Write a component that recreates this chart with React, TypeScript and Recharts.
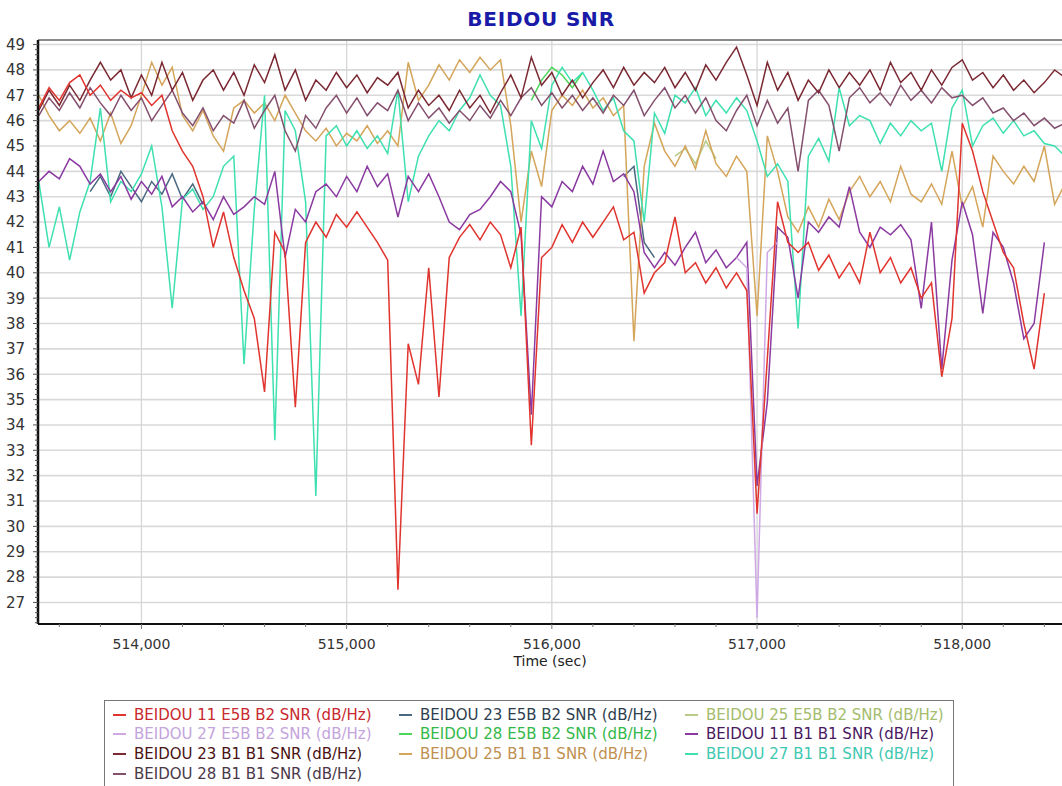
import React from 'react';
import { LineChart, Line, XAxis, YAxis, ReferenceLine } from 'recharts';

const FONT = '"DejaVu Sans", Verdana, sans-serif';

// sample times (sec), one reading every 50 s
const times = Array.from({ length: 101 }, (_, i) => 513500 + i * 50);

// BEIDOU 11 E5B B2
const b11e5b = [
  46.5, 47.3, 46.8, 47.5, 47.8, 47.0, 47.4, 46.8, 47.2, 46.9,
  47.1, 46.6, 47.0, 45.6, 44.8, 44.2, 43.0, 41.0, 42.4, 40.6,
  39.3, 38.2, 35.3, 41.6, 40.8, 34.7, 41.2, 42.0, 41.4, 42.3,
  41.8, 42.4, 41.8, 41.2, 40.5, 27.5, 37.2, 35.6, 40.2, 35.1,
  40.6, 41.4, 41.9, 41.3, 42.0, 41.5, 40.2, 41.8, 33.2, 40.6,
  41.0, 41.9, 41.2, 42.0, 41.4, 42.0, 42.6, 41.3, 41.6, 39.2,
  40.0, 40.4, 42.2, 40.0, 40.4, 39.6, 40.2, 39.4, 40.0, 39.3,
  30.5, 36.6, 42.8, 41.2, 40.8, 41.2, 40.1, 40.7, 39.8, 40.4,
  39.6, 41.6, 40.0, 40.6, 39.6, 40.2, 39.0, 39.6, 35.9, 38.2,
  45.9, 44.8, 43.2, 42.0, 40.8, 40.2, 38.0, 36.2, 39.2, null, null,
];

// BEIDOU 11 B1 B1
const b11b1 = [
  43.6, 44.0, 43.7, 44.5, 44.2, 43.5, 43.9, 43.2, 43.8, 42.9,
  43.6, 43.1, 43.8, 42.6, 43.0, 42.4, 42.8, 42.1, 43.0, 42.3,
  42.6, 43.0, 42.7, 44.0, 40.6, 42.5, 42.0, 43.2, 43.5, 43.0,
  43.8, 43.2, 44.2, 43.4, 43.9, 42.2, 43.8, 43.2, 43.9, 43.0,
  42.0, 41.7, 42.3, 42.5, 43.0, 43.6, 43.2, 41.5, 34.4, 43.0,
  42.6, 43.6, 43.2, 44.2, 43.5, 44.8, 43.6, 43.9, 43.2, 40.8,
  40.2, 40.8, 40.3, 41.0, 41.6, 40.4, 40.9, 40.2, 40.6, 41.2,
  31.6, 34.9, 41.8, 41.4, 39.0, 42.0, 41.6, 42.2, 41.8, 43.4,
  41.6, 41.0, 41.8, 41.5, 41.9, 41.3, 38.6, 42.0, 36.2, 40.5,
  42.8, 41.5, 38.4, 41.6, 41.0, 39.6, 37.4, 38.0, 41.2, null, null,
];

// BEIDOU 23 B1 B1
const b23b1 = [
  46.4, 47.2, 46.6, 47.4, 46.8, 47.6, 48.3, 47.6, 48.0, 46.9,
  47.8, 47.0, 48.3, 47.2, 47.9, 46.8, 47.6, 48.0, 47.2, 47.9,
  47.0, 48.2, 47.5, 48.6, 47.2, 48.0, 46.8, 47.6, 47.2, 47.9,
  47.3, 47.8, 47.1, 47.7, 47.4, 47.9, 46.5, 47.2, 46.6, 47.0,
  46.4, 47.2, 46.5, 47.0, 46.3, 47.1, 47.8, 46.9, 48.5, 47.4,
  47.9, 47.0, 47.6, 46.9, 47.5, 48.0, 47.3, 48.1, 47.4, 47.9,
  47.5, 48.1, 47.3, 47.9, 47.2, 48.2, 47.6, 48.3, 48.9, 47.8,
  46.6, 48.3, 47.2, 47.9, 46.8, 47.6, 47.1, 48.0, 47.3, 47.9,
  47.4, 48.0, 47.2, 48.3, 47.5, 47.9, 47.2, 48.0, 47.4, 48.1,
  48.4, 47.6, 47.9, 47.3, 47.8, 47.2, 47.6, 47.1, 47.5, 48.0, 47.7,
];

// BEIDOU 28 B1 B1
const b28b1 = [
  46.2, 46.9, 46.4, 47.1, 46.5, 47.3, 46.7, 46.2, 47.0, 46.4,
  46.9, 46.0, 46.6, 47.2, 46.3, 45.8, 46.5, 45.6, 46.2, 45.9,
  46.8, 45.7, 46.4, 47.0, 45.6, 44.8, 46.2, 45.7, 46.5, 47.0,
  46.3, 46.9, 46.2, 46.7, 46.4, 47.2, 46.0, 46.7, 46.1, 46.5,
  45.9, 46.4, 46.0, 46.6, 46.1, 46.8, 46.2, 46.9, 47.3, 46.6,
  47.1, 46.5, 47.0, 46.4, 46.9, 46.3, 47.0, 46.6, 47.2, 46.2,
  46.8, 47.3, 46.5, 47.0, 46.3, 46.9, 46.0, 45.6, 46.4, 47.0,
  45.8, 46.8, 45.9, 46.5, 44.0, 46.8, 47.2, 46.6, 44.8, 46.9,
  47.3, 46.7, 47.1, 46.6, 47.4, 46.8, 47.2, 46.7, 47.3, 46.9,
  47.0, 46.6, 46.9, 46.3, 46.5, 46.0, 46.3, 45.8, 46.1, 45.7, 45.9,
];

// BEIDOU 25 B1 B1
const b25b1 = [
  47.0, 46.2, 45.6, 46.0, 45.5, 46.1, 45.2, 46.3, 45.1, 45.8,
  47.0, 48.3, 47.4, 48.1, 46.2, 45.6, 46.4, 45.4, 44.8, 46.5,
  46.8, 46.3, 46.7, 46.0, 47.0, 46.3, 45.6, 45.2, 45.7, 45.0,
  45.5, 45.2, 45.8, 45.1, 45.6, 45.0, 48.3, 46.8, 47.4, 48.2,
  47.6, 48.4, 47.9, 48.5, 48.0, 48.4, 45.8, 42.0, 44.8, 43.4,
  46.4, 47.0, 46.6, 47.2, 46.5, 46.9, 46.2, 46.6, 37.3, 44.2,
  45.9, 44.8, 44.2, 45.0, 44.1, 45.6, 44.3, 43.8, 44.6, 44.0,
  38.3, 45.4, 44.0, 42.2, 41.6, 42.6, 41.8, 42.9, 42.1, 43.2,
  43.8, 43.0, 43.6, 42.8, 44.2, 43.1, 42.8, 43.5, 42.7, 44.8,
  42.6, 43.4, 41.8, 44.6, 44.0, 43.5, 44.2, 43.6, 45.0, 42.7, 43.5,
];

// BEIDOU 27 B1 B1
const b27b1 = [
  43.6, 41.0, 42.6, 40.5, 42.4, 43.6, 46.5, 42.8, 43.6, 43.2,
  43.9, 45.0, 42.6, 38.6, 42.9, 43.3, 42.5, 43.0, 44.2, 44.6,
  36.4, 42.5, 47.0, 33.4, 46.4, 45.6, 42.8, 31.2, 45.4, 45.8,
  45.0, 45.6, 44.9, 45.4, 44.7, 47.2, 42.8, 44.6, 45.4, 46.0,
  45.6, 46.4, 46.9, 47.8, 47.0, 46.6, 44.2, 38.3, 46.0, 44.9,
  47.4, 48.1, 47.5, 47.9, 47.2, 46.4, 46.9, 45.6, 45.2, 42.0,
  46.3, 45.5, 47.0, 46.7, 47.3, 46.2, 46.8, 46.3, 46.9, 46.4,
  45.2, 43.8, 44.3, 43.6, 37.8, 44.6, 45.3, 44.4, 47.3, 45.8,
  46.2, 46.0, 45.1, 45.9, 45.4, 46.0, 45.6, 45.9, 44.0, 46.5,
  47.2, 45.0, 45.8, 46.1, 45.5, 46.0, 45.4, 45.6, 45.1, 45.0, 44.6,
];

// E5B channels only show where they leave the B1 traces
const b23e5bTimes = [513750, 513800, 513850, 513900, 513950, 514000, 514050, 514100, 514150, 514200, 514250, 514300, 514350, 516350, 516400, 516450, 516500];
const b23e5bSnr = [43.2, 43.8, 43.0, 44.0, 43.4, 42.8, 43.6, 43.1, 43.9, 42.9, 43.5, 42.7, null, 43.8, 44.2, 41.2, 40.6];

const b25e5bTimes = [516600, 516650, 516700, 516750, 516800];
const b25e5bSnr = [44.6, 44.9, 44.3, 45.2, 44.5];

const b27e5bTimes = [516900, 516950, 517000, 517050, 517100];
const b27e5bSnr = [40.6, 40.2, 26.4, 40.8, 41.2];

const b28e5bTimes = [515900, 515950, 516000, 516050, 516100, 516150];
const b28e5bSnr = [46.8, 47.6, 48.1, 47.8, 47.3, 47.9];

const xMajor = [514000, 515000, 516000, 517000, 518000];
const xTicks = Array.from({ length: 25 }, (_, i) => 513600 + i * 200);
const yMajor = Array.from({ length: 23 }, (_, i) => 27 + i);
const yTicks = Array.from({ length: 115 }, (_, i) => (131 + i) / 5);

const X_MIN = 513496;
const X_MAX = 518486;
const Y_MIN = 26.15;
const Y_MAX = 49.18;

const data = times.map((t, i) => ({
  t,
  b11e5b: b11e5b[i],
  b11b1: b11b1[i],
  b23b1: b23b1[i],
  b28b1: b28b1[i],
  b25b1: b25b1[i],
  b27b1: b27b1[i],
}));

const pairUp = (ts: number[], vs: (number | null)[]) => ts.map((t, i) => ({ t, v: vs[i] }));

const legendItems = [
  { name: 'BEIDOU 11 E5B B2 SNR (dB/Hz)', color: '#e0342e', text: '#c8282e' },
  { name: 'BEIDOU 23 E5B B2 SNR (dB/Hz)', color: '#4a6880', text: '#2e3e4e' },
  { name: 'BEIDOU 25 E5B B2 SNR (dB/Hz)', color: '#b8cc88', text: '#a4bc6c' },
  { name: 'BEIDOU 27 E5B B2 SNR (dB/Hz)', color: '#cfa8e6', text: '#c4a4dc' },
  { name: 'BEIDOU 28 E5B B2 SNR (dB/Hz)', color: '#4cd65a', text: '#34b84a' },
  { name: 'BEIDOU 11 B1 B1 SNR (dB/Hz)', color: '#8a3aa0', text: '#4a1860' },
  { name: 'BEIDOU 23 B1 B1 SNR (dB/Hz)', color: '#7a2832', text: '#4a1212' },
  { name: 'BEIDOU 25 B1 B1 SNR (dB/Hz)', color: '#d4a55a', text: '#c09050' },
  { name: 'BEIDOU 27 B1 B1 SNR (dB/Hz)', color: '#3ee0b0', text: '#40c8b0' },
  { name: 'BEIDOU 28 B1 B1 SNR (dB/Hz)', color: '#84506e', text: '#4a3848' },
];

const YTick = (props: any) => {
  const { x, y, payload } = props;
  const v = payload.value;
  const major = Math.abs(v - Math.round(v)) < 1e-6 && v >= 27;
  return (
    <g>
      <line x1={x + 13 - (major ? 5 : 3)} x2={x + 13} y1={y} y2={y} stroke="#555" strokeWidth={1} />
      {major && (
        <text x={x} y={y} dy="0.36em" textAnchor="end" fontSize={15} fontFamily={FONT} fill="#333">
          {Math.round(v)}
        </text>
      )}
    </g>
  );
};

const XTick = (props: any) => {
  const { x, y, payload } = props;
  const v = payload.value;
  const major = v % 1000 === 0;
  return (
    <g>
      <line x1={x} x2={x} y1={y - 15} y2={y - 15 + (major ? 5 : 3)} stroke="#777" strokeWidth={1} />
      {major && (
        <text x={x} y={y} dy="0.72em" textAnchor="middle" fontSize={14} fontFamily={FONT} fill="#333">
          {v.toLocaleString('en-US')}
        </text>
      )}
    </g>
  );
};

const App = () => {
  return (
    <div style={{ position: 'absolute', left: 0, top: 0, width: 1062, height: 786, overflow: 'hidden', background: '#fff' }}>
      <div
        style={{
          position: 'absolute', left: 391, top: 9, width: 300, textAlign: 'center',
          fontFamily: FONT, fontWeight: 'bold', fontSize: 20, lineHeight: '20px',
          letterSpacing: 0.8, color: '#1a1aa8',
        }}
      >
        BEIDOU SNR
      </div>

      <div style={{ position: 'absolute', left: 0, top: 0 }}>
        <LineChart width={1062} height={680} data={data} margin={{ top: 40, right: 0, left: 8, bottom: 0 }}>
          {yMajor.map((v) => (
            <ReferenceLine key={'h' + v} y={v} stroke="#d9d9d9" strokeWidth={1.6} />
          ))}
          {xMajor.map((v) => (
            <ReferenceLine key={'v' + v} x={v} stroke="#d6d6d6" strokeWidth={1.3} />
          ))}
          <ReferenceLine y={Y_MAX} stroke="#8a8a8a" strokeWidth={2} />
          <XAxis
            dataKey="t"
            type="number"
            domain={[X_MIN, X_MAX]}
            allowDataOverflow
            ticks={xTicks}
            interval={0}
            tick={<XTick />}
            tickLine={false}
            tickSize={5}
            tickMargin={10}
            height={56}
            axisLine={{ stroke: '#111', strokeWidth: 2 }}
            label={{ value: 'Time (sec)', position: 'insideBottom', offset: 14, fill: '#222', fontSize: 14, fontFamily: FONT }}
          />
          <YAxis
            type="number"
            domain={[Y_MIN, Y_MAX]}
            allowDataOverflow
            ticks={yTicks}
            interval={0}
            tick={<YTick />}
            tickLine={false}
            tickSize={5}
            tickMargin={8}
            width={30}
            axisLine={{ stroke: '#111', strokeWidth: 2.5 }}
          />

          <Line data={pairUp(b25e5bTimes, b25e5bSnr)} dataKey="v" stroke="#b8cc88" strokeWidth={1.5} dot={false} isAnimationActive={false} />
          <Line data={pairUp(b28e5bTimes, b28e5bSnr)} dataKey="v" stroke="#4cd65a" strokeWidth={1.5} dot={false} isAnimationActive={false} />
          <Line data={pairUp(b23e5bTimes, b23e5bSnr)} dataKey="v" stroke="#4a6880" strokeWidth={1.5} dot={false} isAnimationActive={false} />
          <Line dataKey="b25b1" stroke="#d4a55a" strokeWidth={1.5} dot={false} isAnimationActive={false} />
          <Line dataKey="b27b1" stroke="#3ee0b0" strokeWidth={1.5} dot={false} isAnimationActive={false} />
          <Line dataKey="b28b1" stroke="#84506e" strokeWidth={1.5} dot={false} isAnimationActive={false} />
          <Line dataKey="b23b1" stroke="#7a2832" strokeWidth={1.5} dot={false} isAnimationActive={false} />
          <Line dataKey="b11b1" stroke="#8a3aa0" strokeWidth={1.5} dot={false} isAnimationActive={false} />
          <Line data={pairUp(b27e5bTimes, b27e5bSnr)} dataKey="v" stroke="#cfa8e6" strokeWidth={1.5} dot={false} isAnimationActive={false} />
          <Line dataKey="b11e5b" stroke="#e0342e" strokeWidth={1.5} dot={false} isAnimationActive={false} />
        </LineChart>
      </div>

      <div
        style={{
          position: 'absolute', left: 104, top: 700, width: 850, height: 100,
          border: '1.5px solid #777', boxSizing: 'border-box', padding: '4px 0 0 8px',
          display: 'grid', gridTemplateColumns: '286px 286px 270px', gridAutoRows: '19.6px',
          fontFamily: FONT, fontSize: 15,
        }}
      >
        {legendItems.map((it) => (
          <div key={it.name} style={{ display: 'flex', alignItems: 'center', whiteSpace: 'nowrap' }}>
            <span style={{ display: 'inline-block', width: 13, height: 2, background: it.color, marginRight: 8 }} />
            <span style={{ color: it.text }}>{it.name}</span>
          </div>
        ))}
      </div>
    </div>
  );
};

export default App;
